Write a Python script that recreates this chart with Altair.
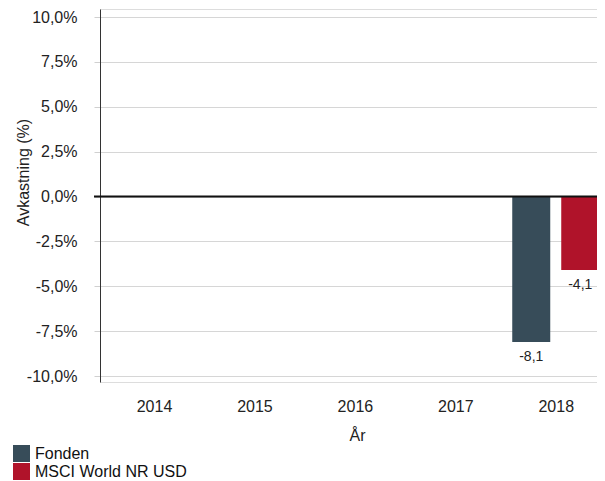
import altair as alt
import pandas as pd

years = [2014, 2015, 2016, 2017, 2018]
series = ["Fonden", "MSCI World NR USD"]
fonden = [None, None, None, None, -8.1]
msci = [None, None, None, None, -4.1]
colors = ["#374c59", "#b0132a"]
y_ticks = [-10, -7.5, -5, -2.5, 0, 2.5, 5, 7.5, 10]

rows = []
for i, yr in enumerate(years):
    if fonden[i] is not None:
        rows.append({"År": yr, "Serie": series[0], "v": fonden[i]})
    if msci[i] is not None:
        rows.append({"År": yr, "Serie": series[1], "v": msci[i]})
df = pd.DataFrame(rows)

FONT = "Liberation Sans"
W = 497

x_scale = alt.Scale(domain=[2013.512, 2018.361], nice=False, zero=False)
x_enc = alt.X("År:Q", scale=x_scale,
              axis=alt.Axis(title="År", values=years, format="d", labelAngle=0, ticks=False, tickSize=0,
                            domain=False, grid=False, labelFlush=False, labelOverlap=False,
                            labelFontSize=16, labelColor="#222222", labelFont=FONT, labelPadding=16,
                            titleFontSize=16, titleFont=FONT, titleColor="#222222", titleFontWeight="normal",
                            titleBaseline="alphabetic", titleX=257, titleY=58))

y_enc = alt.Y("v:Q", scale=alt.Scale(domain=[-10.334, 10.446], nice=False, zero=False),
              axis=alt.Axis(title="Avkastning (%)", values=y_ticks,
                            labelExpr="replace(replace(format(datum.value, '.1f'), '.', ','), '\u2212', '-') + '%'",
                            labelFontSize=16, labelFont=FONT, labelColor="#222222", labelPadding=17,
                            tickSize=6, tickColor="#d0d0d0", domainColor="#333333", domainWidth=1,
                            gridColor="#d6d6d6", gridWidth=1,
                            titleFontSize=16, titleFont=FONT, titleColor="#222222", titleFontWeight="normal",
                            titleX=-72, titleY=163, titleBaseline="alphabetic", titleAngle=270))

color_enc = alt.Color("Serie:N", scale=alt.Scale(domain=series, range=colors),
                      legend=alt.Legend(title=None, orient="none", legendX=-87, legendY=436,
                                        symbolType="square", symbolSize=289, symbolStrokeWidth=0,
                                        symbolOpacity=1, labelFontSize=16, labelFont=FONT,
                                        labelColor="#111111", labelOffset=5, rowPadding=1, padding=0,
                                        direction="vertical"))

base = alt.Chart(df)
offsets = {series[0]: -24.5, series[1]: 24.5}

layers = []
for s in series:
    layers.append(
        base.transform_filter(alt.datum.Serie == s)
        .mark_bar(width=38, xOffset=offsets[s])
        .encode(x=x_enc, y=y_enc, color=color_enc)
    )

zero = alt.Chart(pd.DataFrame({"z": [0]})).mark_rule(color="#111111", strokeWidth=2).encode(
    y=alt.Y("z:Q"),
    x=alt.value(-6),
    x2=alt.value(W),
)
layers.append(zero)

for s in series:
    layers.append(
        base.transform_filter(alt.datum.Serie == s)
        .transform_calculate(lbl="replace(replace(format(datum.v, '.1f'), '.', ','), '\u2212', '-')")
        .mark_text(dx=offsets[s], dy=15, baseline="middle", fontSize=14, font=FONT, color="#222222")
        .encode(x=alt.X("År:Q"), y=alt.Y("v:Q"), text="lbl:N")
    )

chart = alt.layer(*layers).properties(
    width=W, height=373,
    autosize=alt.AutoSizeParams(type="none"),
    padding={"left": 92, "top": 1, "right": 0, "bottom": 99},
).configure_view(stroke=None).configure(background="white")

chart.save("out.html", embed_options={"renderer": "svg", "actions": False})
